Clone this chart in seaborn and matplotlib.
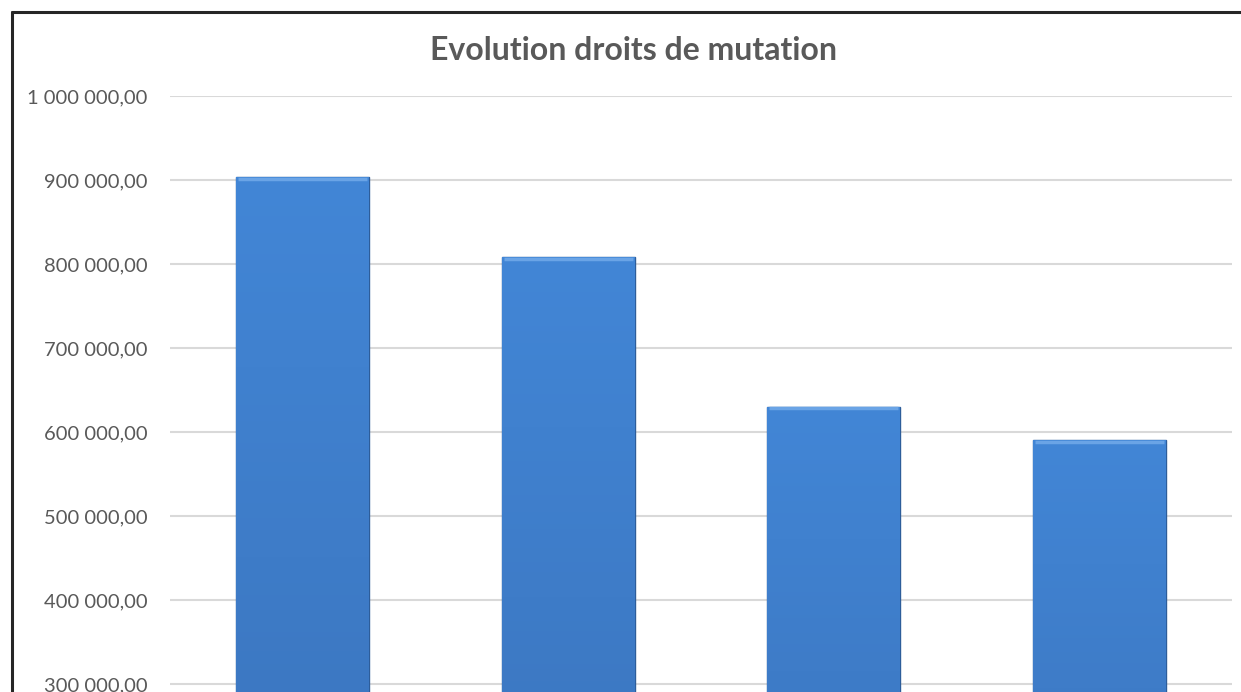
import numpy as np
import pandas as pd
import seaborn as sns
import matplotlib
matplotlib.use("Agg")
import matplotlib.pyplot as plt
from matplotlib.lines import Line2D
from matplotlib.ticker import FuncFormatter, MultipleLocator

# ---- data ----
categories = ["2019", "2020", "2021", "2022"]
values = [903000, 808000, 630000, 590500]
title = "Evolution droits de mutation"

df = pd.DataFrame({"annee": categories, "montant": values})

sns.set_theme(style="white")
plt.rcParams["font.family"] = ["Lato", "DejaVu Sans"]

W, H = 1241, 692
fig = plt.figure(figsize=(W / 100, H / 100), dpi=100)
fig.patch.set_facecolor("white")

# axes geometry in pixels (axes bottom lies below the visible crop)
left_px, right_px, top_px, bottom_px = 170, 1232, 96, 760
ax = fig.add_axes([left_px / W, 1 - bottom_px / H,
                   (right_px - left_px) / W, (bottom_px - top_px) / H])

sns.barplot(data=df, x="annee", y="montant", color="#4283d3",
            width=0.5, edgecolor="#2d5d9a", linewidth=1.0, ax=ax, zorder=3)

# vertical gradient + top highlight on bars
grad = np.linspace(0, 1, 256).reshape(-1, 1)
cmap = matplotlib.colors.LinearSegmentedColormap.from_list(
    "g", ["#3a72ba", "#4286d6"])
for p in ax.patches:
    x0, y0 = p.get_x(), p.get_y()
    w, h = p.get_width(), p.get_height()
    im = ax.imshow(grad, extent=(x0, x0 + w, y0, y0 + h), origin="lower",
                   cmap=cmap, aspect="auto", zorder=3.5)
    im.set_clip_path(p)
    ax.plot([x0 + 0.008, x0 + w - 0.008], [y0 + h - 2000, y0 + h - 2000],
            color="#6aa4e6", lw=2.5, zorder=4, solid_capstyle="butt")
ax.set_xlim(-0.5, 3.5)

ymax = 1000000
ppx = 84 / 100000  # pixels per unit
ymin = 300000 - (bottom_px - 684) / ppx
ax.set_ylim(ymin, ymax)
ax.yaxis.set_major_locator(MultipleLocator(100000))

def fmt(v, pos):
    if v < 299999:
        return ""
    s = f"{v:,.2f}".replace(",", " ").replace(".", ",")
    return s
ax.yaxis.set_major_formatter(FuncFormatter(fmt))

ax.grid(axis="y", color="#d9d9d9", lw=1.5, zorder=0)
ax.set_axisbelow(True)
for s in ax.spines.values():
    s.set_visible(False)
ax.tick_params(axis="y", length=0, pad=16, labelsize=14.5, labelcolor="#595959")
ax.tick_params(axis="x", length=0, labelbottom=False)
ax.set_xlabel("")
ax.set_ylabel("")

fig.text(633 / W, 1 - 51 / H, title, ha="center", va="center",
         fontsize=23, fontweight="bold", color="#595959")

# outer chart border (only top and left visible in crop)
fig.add_artist(Line2D([12 / W, 12 / W], [0, 1 - 12 / H], transform=fig.transFigure,
                      color="#262626", lw=2.2))
fig.add_artist(Line2D([12 / W, 1], [1 - 12 / H, 1 - 12 / H], transform=fig.transFigure,
                      color="#262626", lw=2.2))

fig.savefig("out.png", dpi=100)
